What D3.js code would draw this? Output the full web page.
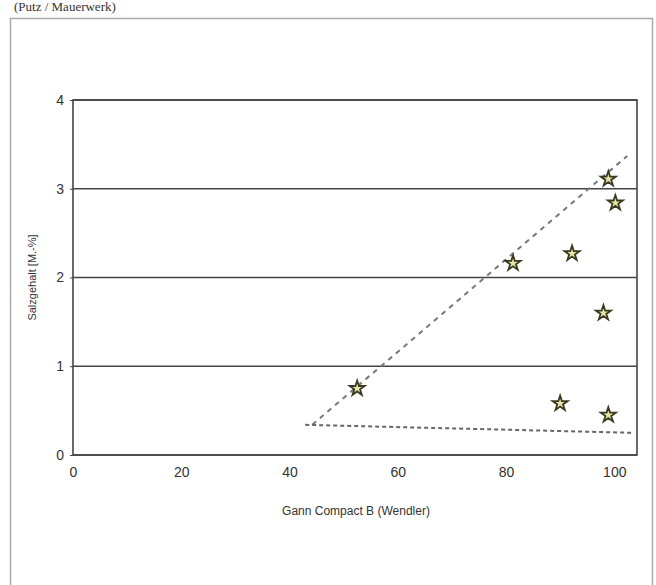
<!DOCTYPE html>
<html>
<head>
<meta charset="utf-8">
<script src="https://cdn.jsdelivr.net/npm/d3@7"></script>
<style>
  body { margin: 0; background: #fff; }
  text { font-family: "Liberation Sans", Arial, sans-serif; fill: #333; }
</style>
</head>
<body>
<div id="chart"></div>
<script>
// measured values (Gann Compact B vs. salt content)
const gannValues = [98.9, 100.2, 92.2, 81.3, 98.0, 52.5, 90.0, 98.9];
const saltValues = [3.11, 2.84, 2.27, 2.16, 1.60, 0.75, 0.58, 0.45];

// hand drawn envelope lines
const upperLineX = [44.2, 102.4];
const upperLineY = [0.34, 3.37];
const lowerLineX = [42.9, 103.5];
const lowerLineY = [0.34, 0.25];

const xTicks = [0, 20, 40, 60, 80, 100];
const yTicks = [0, 1, 2, 3, 4];

const W = 656, H = 585;
const margin = {top: 100, right: 19, bottom: 130, left: 73},
      width = W - margin.left - margin.right,
      height = H - margin.top - margin.bottom;

const root = d3.select("#chart").append("svg")
    .attr("width", W)
    .attr("height", H);

// caption at the top of the scan
root.append("text")
    .attr("x", 14)
    .attr("y", 11)
    .style("font-family", "'Liberation Serif', serif")
    .style("font-size", "13px")
    .text("(Putz / Mauerwerk)");

// outer frame
root.append("rect")
    .attr("x", 10.5).attr("y", 18.5)
    .attr("width", 642).attr("height", 580)
    .attr("fill", "none")
    .attr("stroke", "#aaa")
    .attr("stroke-width", 1.5);

const svg = root.append("g")
    .attr("transform", `translate(${margin.left},${margin.top})`);

const x = d3.scaleLinear().domain([0, 104.2]).range([0, width]);
const y = d3.scaleLinear().domain([0, 4]).range([height, 0]);

// horizontal grid lines
svg.append("g")
    .selectAll("line")
    .data(yTicks)
    .enter().append("line")
    .attr("x1", 0).attr("x2", width)
    .attr("y1", d => y(d)).attr("y2", d => y(d))
    .attr("stroke", "#444")
    .attr("stroke-width", 1.6);

// plot border
svg.append("rect")
    .attr("width", width).attr("height", height)
    .attr("fill", "none")
    .attr("stroke", "#444")
    .attr("stroke-width", 1.6);

// axes (labels only)
const yAxis = svg.append("g")
    .call(d3.axisLeft(y).tickValues(yTicks).tickSize(3).tickPadding(6).tickFormat(d3.format("d")));
const xAxis = svg.append("g")
    .attr("transform", `translate(0,${height})`)
    .call(d3.axisBottom(x).tickValues(xTicks).tickSize(0).tickPadding(12).tickFormat(d3.format("d")));
[xAxis, yAxis].forEach(a => {
    a.select(".domain").remove();
    a.selectAll("line").attr("stroke", "#444");
    a.selectAll("text")
        .style("font-family", "'Liberation Sans Narrow', 'Liberation Sans', sans-serif")
        .style("font-size", "14px")
        .attr("fill", "#333");
});

// envelope lines
const line = d3.line().x(d => x(d[0])).y(d => y(d[1]));
svg.append("path")
    .datum(d3.zip(upperLineX, upperLineY))
    .attr("d", line)
    .attr("fill", "none")
    .attr("stroke", "#777")
    .attr("stroke-width", 2)
    .attr("stroke-dasharray", "5,5");
svg.append("path")
    .datum(d3.zip(lowerLineX, lowerLineY))
    .attr("d", line)
    .attr("fill", "none")
    .attr("stroke", "#666")
    .attr("stroke-width", 2)
    .attr("stroke-dasharray", "4,3");

// star markers
const star = d3.symbol().type(d3.symbolStar).size(70);
svg.append("g")
    .selectAll("path")
    .data(d3.zip(gannValues, saltValues))
    .enter().append("path")
    .attr("transform", d => `translate(${x(d[0])},${y(d[1])})`)
    .attr("d", star)
    .attr("fill", "#e6e6a8")
    .attr("stroke", "#3a3a20")
    .attr("stroke-width", 1.8);

// axis titles
root.append("text")
    .attr("transform", `translate(36,${margin.top + height / 2}) rotate(-90)`)
    .attr("text-anchor", "middle")
    .style("font-size", "11px")
    .style("font-family", "'Liberation Sans Narrow', 'Liberation Sans', sans-serif")
    .text("Salzgehalt [M.-%]");

root.append("text")
    .attr("x", 356)
    .attr("y", 515)
    .attr("text-anchor", "middle")
    .style("font-size", "12px")
    .style("font-family", "'Liberation Sans Narrow', 'Liberation Sans', sans-serif")
    .text("Gann Compact B (Wendler)");
</script>
</body>
</html>
